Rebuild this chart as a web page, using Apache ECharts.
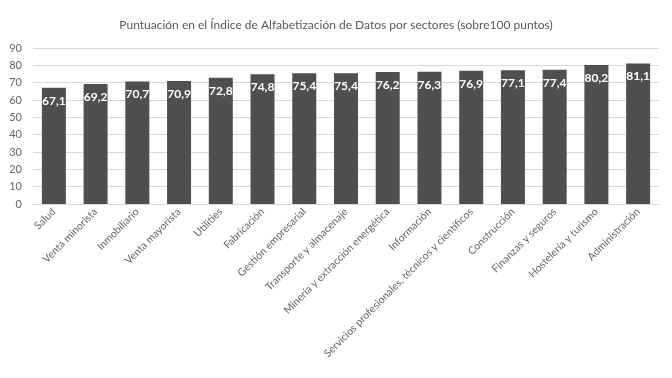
<!DOCTYPE html>
<html><head><meta charset="utf-8">
<script src="https://cdn.jsdelivr.net/npm/echarts@6/dist/echarts.min.js"></script>
<style>html,body{margin:0;padding:0;background:#fff}#c{width:672px;height:378px}</style>
</head><body><div id="c"></div>
<script>
const titleText = 'Puntuación en el Índice de Alfabetización de Datos por sectores (sobre100 puntos)';
const categories = ['Salud','Venta minorista','Inmobiliario','Venta mayorista','Utilities','Fabricación','Gestión empresarial','Transporte y almacenaje','Minería y extracción energética','Información','Servicios profesionales, técnicos y científicos','Construcción','Finanzas y seguros','Hostelería y turismo','Administración'];
const scores = [67.1,69.2,70.7,70.9,72.8,74.8,75.4,75.4,76.2,76.3,76.9,77.1,77.4,80.2,81.1];
const yTicks = [0,10,20,30,40,50,60,70,80,90];

const font = 'Lato, "Open Sans", sans-serif';
const chart = echarts.init(document.getElementById('c'));
chart.setOption({
  animation:false,
  title:{text:titleText,left:'center',top:14,textStyle:{fontFamily:font,fontSize:12,fontWeight:'normal',color:'#595959'}},
  grid:{left:33,right:13,top:48,bottom:174,containLabel:false},
  xAxis:{type:'category',data:categories,
    axisLine:{lineStyle:{color:'#d9d9d9'}},axisTick:{show:false},
    axisLabel:{rotate:45,interval:0,fontFamily:font,fontSize:10.5,color:'#666666',margin:6}},
  yAxis:{type:'value',min:yTicks[0],max:yTicks[yTicks.length-1],interval:10,
    axisLine:{show:false},axisTick:{show:false},
    splitLine:{lineStyle:{color:'#d9d9d9'}},
    axisLabel:{fontFamily:font,fontSize:11,color:'#666666',margin:11}},
  series:[{type:'bar',data:scores,barWidth:24,
    itemStyle:{color:'#4f4f4f'},
    label:{show:true,position:'insideTop',distance:7,color:'#fff',fontFamily:font,fontSize:12,fontWeight:'bold',
      formatter:p=>p.value.toFixed(1).replace('.',',')}}]
});
</script></body></html>
